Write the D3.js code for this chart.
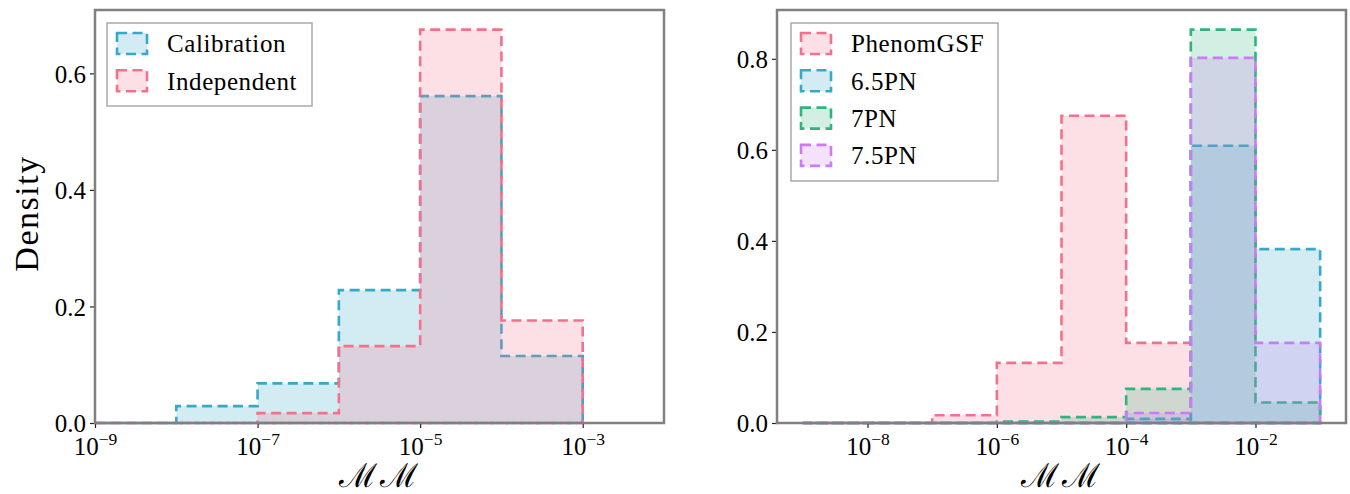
<!DOCTYPE html>
<html>
<head>
<meta charset="utf-8">
<script src="https://cdn.jsdelivr.net/npm/d3@7"></script>
<style>
  html, body { margin: 0; padding: 0; background: #fff; }
  svg { display: block; }
  text { font-family: "Liberation Serif", "DejaVu Serif", serif; fill: #000; }
</style>
</head>
<body>
<svg id="chart" width="1350" height="494"></svg>
<script>
// Bin edges as powers of ten
const leftBinExponents = [-9, -8, -7, -6, -5, -4, -3];
const rightBinExponents = [-9, -8, -7, -6, -5, -4, -3, -2, -1];

// Left panel densities per bin
const calibration = [0, 0.029, 0.068, 0.228, 0.561, 0.115];
const independent = [0, 0, 0.017, 0.132, 0.675, 0.176];

// Right panel densities per bin
const phenomGSF = [0, 0, 0.017, 0.132, 0.675, 0.176, 0, 0];
const pn65 = [0, 0, 0, 0, 0, 0.009, 0.609, 0.382];
const pn7 = [0, 0, 0, 0.003, 0.013, 0.075, 0.864, 0.045];
const pn75 = [0, 0, 0, 0, 0, 0.022, 0.802, 0.176];

// Tick positions
const leftXTickExponents = [-9, -7, -5, -3];
const rightXTickExponents = [-8, -6, -4, -2];
const leftYTicks = [0, 0.2, 0.4, 0.6];
const rightYTicks = [0, 0.2, 0.4, 0.6, 0.8];

const leftLabels = ["Calibration", "Independent"];
const rightLabels = ["PhenomGSF", "6.5PN", "7PN", "7.5PN"];

const colors = {
  pink: "#f5708b",
  blue: "#36a9c9",
  green: "#2fb47c",
  purple: "#cc7af5"
};

const svg = d3.select("#chart");

function drawPanel(cfg) {
  const { left, right, top, bottom, xDomain, binExps, series, xTicks, yTicks, legend, yLabel } = cfg;
  const x = d3.scaleLog().domain(xDomain).range([left, right]);
  const yMax = d3.max(series, s => d3.max(s.values)) * 1.05;
  const y = d3.scaleLinear().domain([0, yMax]).range([bottom, top]);

  const g = svg.append("g");
  const edges = binExps.map(e => Math.pow(10, e));

  // Step-filled histograms, drawn in order so later fills tint earlier outlines
  series.forEach(s => {
    const pts = [[edges[0], 0]];
    s.values.forEach((v, i) => {
      pts.push([edges[i], v]);
      pts.push([edges[i + 1], v]);
    });
    pts.push([edges[edges.length - 1], 0]);
    for (let i = edges.length - 2; i >= 0; i--) pts.push([edges[i], 0]);
    const line = d3.line().x(d => x(d[0])).y(d => y(d[1]));
    g.append("path")
      .attr("d", line(pts) + "Z")
      .attr("fill", s.color)
      .attr("fill-opacity", 0.22)
      .attr("stroke", "none");
    g.append("path")
      .attr("d", line(pts) + "Z")
      .attr("fill", "none")
      .attr("stroke", s.color)
      .attr("stroke-width", 2.6)
      .attr("stroke-dasharray", "10,5.5")
      .attr("stroke-linejoin", "miter");
  });

  // Axes
  const xAxis = d3.axisBottom(x)
    .tickValues(xTicks.map(e => Math.pow(10, e)))
    .tickSize(5).tickPadding(4)
    .tickFormat(() => "");
  const xg = g.append("g").attr("transform", `translate(0,${bottom})`).call(xAxis);
  xg.select(".domain").remove();
  xg.selectAll(".tick line").attr("stroke", "#222").attr("stroke-width", 1.2);
  xg.selectAll(".tick text").remove();
  xg.selectAll(".tick").each(function (d) {
    const e = Math.round(Math.log10(d));
    const t = d3.select(this).append("text")
      .attr("y", 32)
      .attr("text-anchor", "middle")
      .style("font-size", "25px");
    t.append("tspan").text("10");
    t.append("tspan").attr("dy", -10).style("font-size", "17.5px").text("\u2212" + Math.abs(e));
  });

  const yAxis = d3.axisLeft(y)
    .tickValues(yTicks)
    .tickSize(5).tickPadding(4)
    .tickFormat(d3.format(".1f"));
  const yg = g.append("g").attr("transform", `translate(${left},0)`).call(yAxis);
  yg.select(".domain").remove();
  yg.selectAll(".tick line").attr("stroke", "#222").attr("stroke-width", 1.2);
  yg.selectAll(".tick text")
    .attr("fill", "#000")
    .attr("dy", "0.35em")
    .style("font-size", "25px")
    .style("font-family", "'Liberation Serif', serif");

  // Frame
  g.append("rect")
    .attr("x", left).attr("y", top)
    .attr("width", right - left).attr("height", bottom - top)
    .attr("fill", "none")
    .attr("stroke", "#808080")
    .attr("stroke-width", 2.5);

  // X label
  g.append("text")
    .attr("x", (left + right) / 2)
    .attr("y", 487)
    .attr("text-anchor", "middle")
    .style("font-size", "33px")
    .style("letter-spacing", "3px")
    .text("\u2133\u2133");

  if (yLabel) {
    g.append("text")
      .attr("transform", `translate(38,${(top + bottom) / 2 - 3}) rotate(-90)`)
      .attr("text-anchor", "middle")
      .style("font-size", "34px")
      .style("letter-spacing", "1.5px")
      .text(yLabel);
  }

  // Legend
  const lg = g.append("g");
  lg.append("rect")
    .attr("x", legend.x).attr("y", legend.y)
    .attr("width", legend.w).attr("height", legend.h)
    .attr("fill", "#fff").attr("fill-opacity", 0.8)
    .attr("stroke", "#aaaaaa").attr("stroke-width", 1.5);
  series.forEach((s, i) => {
    const cy = legend.y + 20.5 + i * 37.3;
    lg.append("rect")
      .attr("x", legend.x + 10).attr("y", cy - 10.5)
      .attr("width", 30).attr("height", 21)
      .attr("fill", s.color).attr("fill-opacity", 0.22)
      .attr("stroke", s.color).attr("stroke-width", 2.6)
      .attr("stroke-dasharray", "10,5.5");
    lg.append("text")
      .attr("x", legend.x + 60)
      .attr("y", cy)
      .attr("dy", "0.35em")
      .style("font-size", "25px")
      .style("letter-spacing", "0.6px")
      .text(s.label);
  });
}

drawPanel({
  left: 95, right: 664, top: 10, bottom: 423,
  xDomain: [1e-9, 1e-2],
  binExps: leftBinExponents,
  series: [
    { label: leftLabels[0], values: calibration, color: colors.blue },
    { label: leftLabels[1], values: independent, color: colors.pink }
  ],
  xTicks: leftXTickExponents,
  yTicks: leftYTicks,
  legend: { x: 107, y: 23, w: 205, h: 83 },
  yLabel: "Density"
});

drawPanel({
  left: 777, right: 1346, top: 10, bottom: 423,
  xDomain: [Math.pow(10, -9.4), Math.pow(10, -0.6)],
  binExps: rightBinExponents,
  series: [
    { label: rightLabels[0], values: phenomGSF, color: colors.pink },
    { label: rightLabels[1], values: pn65, color: colors.blue },
    { label: rightLabels[2], values: pn7, color: colors.green },
    { label: rightLabels[3], values: pn75, color: colors.purple }
  ],
  xTicks: rightXTickExponents,
  yTicks: rightYTicks,
  legend: { x: 791, y: 23, w: 207, h: 158 },
  yLabel: null
});
</script>
</body>
</html>
